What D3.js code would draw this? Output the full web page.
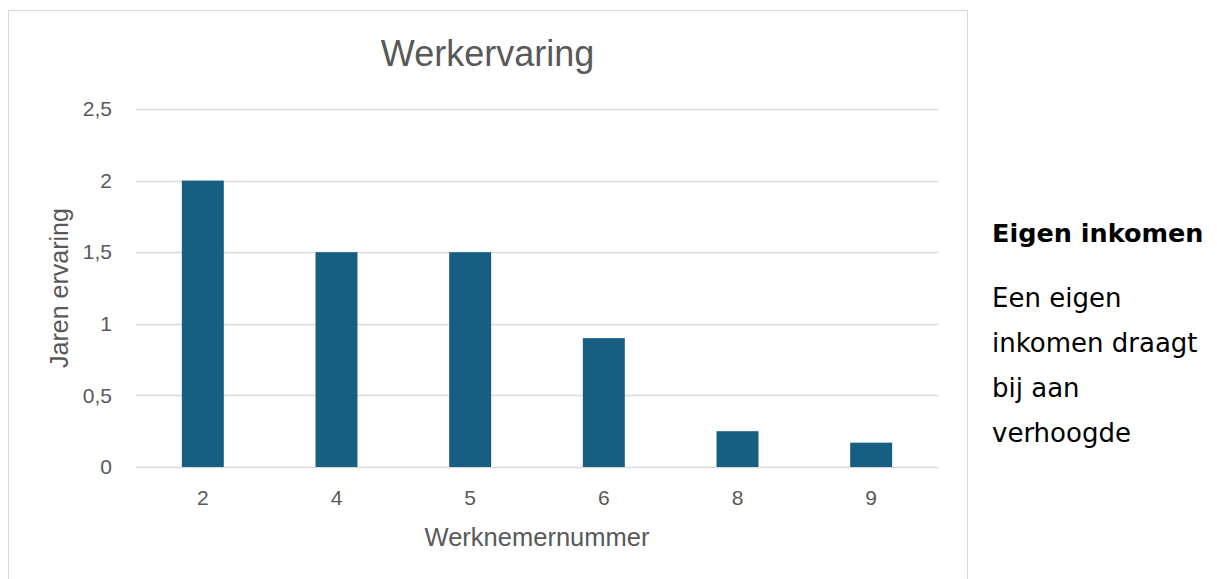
<!DOCTYPE html>
<html>
<head>
<meta charset="utf-8">
<script src="https://cdn.jsdelivr.net/npm/d3@7"></script>
<style>
  body { margin: 0; background: #fff; }
  svg { display: block; }
</style>
</head>
<body>
<div class="chart"></div>
<script>
// data
var categories = ["2", "4", "5", "6", "8", "9"];
var values = [2, 1.5, 1.5, 0.9, 0.25, 0.17];
var yTicks = [0, 0.5, 1, 1.5, 2, 2.5];

var sideTitle = "Eigen inkomen";
var sideLines = ["Een eigen", "inkomen draagt", "bij aan", "verhoogde"];

var W = 1217, H = 579;
var plot = {left: 136, right: 938, top: 109, bottom: 467};
var textColor = "#595959";
var font = "'Liberation Sans', Arial, sans-serif";
var sideFont = "'DejaVu Sans', 'Noto Sans', sans-serif";

var svg = d3.select(".chart").append("svg")
    .attr("width", W)
    .attr("height", H);

// chart frame
svg.append("rect")
    .attr("x", 8.5).attr("y", 10.5)
    .attr("width", 959).attr("height", 600)
    .attr("fill", "#fff")
    .attr("stroke", "#d9d9d9");

var gap = 0.686;
var x = d3.scaleBand()
    .domain(categories)
    .range([plot.left, plot.right])
    .paddingInner(gap)
    .paddingOuter(gap / 2);

var y = d3.scaleLinear()
    .domain([0, 2.5])
    .range([plot.bottom, plot.top]);

// gridlines
svg.append("g")
  .selectAll("line")
  .data(yTicks)
  .enter().append("line")
    .attr("x1", plot.left).attr("x2", plot.right)
    .attr("y1", function(d) { return Math.round(y(d)) + 0.5; })
    .attr("y2", function(d) { return Math.round(y(d)) + 0.5; })
    .attr("stroke", "#d9d9d9")
    .attr("stroke-width", 1.5);

// bars
svg.append("g")
  .selectAll("rect")
  .data(values)
  .enter().append("rect")
    .attr("x", function(d, i) { return x(categories[i]); })
    .attr("width", x.bandwidth())
    .attr("y", function(d) { return y(d); })
    .attr("height", function(d) { return y(0) - y(d); })
    .attr("fill", "#175f82");

// y axis labels
var yAxis = svg.append("g")
    .attr("transform", "translate(" + (plot.left - 24) + ",0)")
    .call(d3.axisLeft(y).tickValues(yTicks).tickSize(0)
      .tickFormat(function(d) { return String(d).replace(".", ","); }));
yAxis.select(".domain").remove();
yAxis.selectAll("text")
    .attr("font-family", font)
    .attr("font-size", 21)
    .attr("fill", textColor)
    .attr("x", 0);

// x axis labels
var xAxis = svg.append("g")
    .attr("transform", "translate(0," + (plot.bottom + 23) + ")")
    .call(d3.axisBottom(x).tickSize(0));
xAxis.select(".domain").remove();
xAxis.selectAll("text")
    .attr("font-family", font)
    .attr("font-size", 21)
    .attr("fill", textColor)
    .attr("dy", "0.71em")
    .attr("y", 0);

// title
svg.append("text")
    .attr("x", 487.5)
    .attr("y", 66)
    .attr("text-anchor", "middle")
    .attr("font-family", font)
    .attr("font-size", 36)
    .attr("fill", textColor)
    .text("Werkervaring");

// axis titles
svg.append("text")
    .attr("x", (plot.left + plot.right) / 2)
    .attr("y", 546)
    .attr("text-anchor", "middle")
    .attr("font-family", font)
    .attr("font-size", 25.5)
    .attr("fill", textColor)
    .text("Werknemernummer");

svg.append("text")
    .attr("transform", "translate(68," + ((plot.top + plot.bottom) / 2) + ") rotate(-90)")
    .attr("text-anchor", "middle")
    .attr("font-family", font)
    .attr("font-size", 25)
    .attr("fill", textColor)
    .text("Jaren ervaring");

// side text
svg.append("text")
    .attr("x", 992)
    .attr("y", 242)
    .attr("font-family", sideFont)
    .attr("font-size", 25.5)
    .attr("font-weight", "bold")
    .attr("fill", "#000")
    .text(sideTitle);

svg.append("g")
  .selectAll("text")
  .data(sideLines)
  .enter().append("text")
    .attr("x", 992)
    .attr("y", function(d, i) { return 307 + i * 45; })
    .attr("font-family", sideFont)
    .attr("font-size", 26)
    .attr("fill", "#000")
    .text(function(d) { return d; });
</script>
</body>
</html>
